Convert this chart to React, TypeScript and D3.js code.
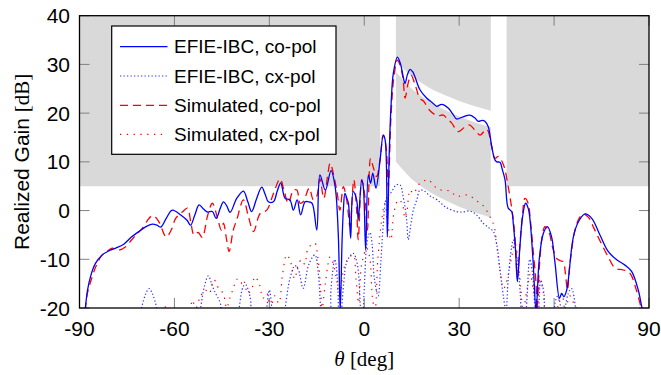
import React from "react";
import * as d3 from "d3";

// ---- Data (theta in deg, realized gain in dB) ----
const xTicks = [-90, -60, -30, 0, 30, 60, 90];
const yTicks = [-20, -10, 0, 10, 20, 30, 40];

const legendLabels = [
  "EFIE-IBC, co-pol",
  "EFIE-IBC, cx-pol",
  "Simulated, co-pol",
  "Simulated, cx-pol",
];

// Mask (gray) regions
const maskFlatLeft = [-90, 5];
const maskFlatRight = [45, 90];
const maskFlatLevel = 5;
const maskTheta = [10, 15, 20, 25, 30, 35, 40];
const maskUpper = [30.7, 27.6, 25.4, 23.8, 22.5, 21.4, 20.5];
const maskMid = [28.5, 25.0, 22.6, 20.8, 19.3, 18.1, 17.1];
const maskLower = [10, 6.5, 4.1, 2.3, 0.8, -0.4, -1.4];

const efieCo: [number, number][] = [
  [-88.2, -20.5], [-87.5, -16.5], [-86.5, -13.5], [-85, -10.9], [-83, -9.2], [-80.5, -8.2],
  [-78.5, -7.7], [-76, -6.9], [-73.5, -5.4], [-71, -4.2], [-69, -3.3], [-67, -2.8],
  [-65.5, -3.0], [-64.3, -3.4], [-62.5, -1.5], [-60.7, 0.1], [-58, -0.9], [-56, -2.0],
  [-54.9, -3.0], [-53.5, -0.8], [-52.2, 1.15], [-50.8, 0.3], [-49.5, -0.3], [-48, -0.2],
  [-46.8, -1.6], [-45.5, 0.5], [-44.5, 1.8], [-43.5, 1.0], [-42.4, -0.35], [-40.3, 2.5],
  [-38.2, 4.0], [-36.8, 1.8], [-35.6, -0.2], [-34, 2.5], [-32.4, 4.8], [-31.3, 3.3],
  [-30.3, 1.8], [-28.7, 1.8], [-27.5, 4.0], [-26.4, 5.7], [-25, 2.5], [-23.5, 2.2],
  [-22.4, 0.1], [-21.2, 2.2], [-20.1, -0.9], [-18.7, 1.8], [-17.7, 1.8], [-16.5, 1.5],
  [-15.0, -4.0], [-14.0, 7.3], [-12.3, 4.2], [-10.5, 8.2], [-9.2, 4.9], [-8.2, -5],
  [-7.6, -20.5], [-7.0, -6], [-6.6, 0.1], [-6.1, 3.5], [-5.5, 2.5], [-5.0, 1.5],
  [-4.3, -5.7], [-3.5, 3.9], [-2.4, 2.2], [-1.9, -1.9], [-0.8, 6.3], [-0.3, 4.9],
  [0.45, -8.1], [1.3, 7.3], [2.0, 5.6], [2.7, 7.7], [3.7, 4.6], [5.0, 10.4],
  [6.0, 15.5], [6.6, 14.5], [7.3, -5.4], [7.9, 11.8], [8.5, 22], [9.2, 28.2],
  [10.5, 31.5], [11.5, 30.0], [12.3, 27.5], [12.9, 26.1], [13.6, 27.8], [14.5, 29.0],
  [15.3, 28.5], [16.0, 27.5], [17.6, 24.8], [19.7, 23.1], [21.8, 22.0], [22.9, 21.4],
  [24.5, 21.8], [26.6, 21.0], [28.0, 19.8], [29.2, 18.8], [31, 19.2], [33.4, 19.6],
  [35, 19.0], [36.0, 18.3], [37.3, 18.5], [38.2, 18.3], [39.2, 17.2], [40.3, 13.1],
  [41.3, 10.4], [41.9, 10.0], [42.9, 9.9], [43.6, 8.5], [44.5, 6.3], [45.5, 0.5],
  [46.6, -0.2], [47.1, -2.6], [47.8, -8], [48.4, -14.6], [49.2, -7.4], [50.0, -1.5],
  [51.0, 1.5], [51.8, 0.5], [52.4, -1.9], [53.4, -10.8], [54.3, -20.5], [55.3, -10.1],
  [56.6, -4.7], [57.9, -3.3], [59.2, -5.4], [60.3, -10.8], [61.7, -18.0], [62.4, -17],
  [63.1, -17.7], [64, -16.3], [64.5, -14.2], [66.1, -5.4], [67.7, -2.3], [69.8, -0.7],
  [71.9, -1.6], [74.5, -5.0], [77.1, -8.4], [79.8, -10.1], [82.4, -11.2], [84.5, -12.5],
  [86.6, -16.3], [87.7, -19.7], [88.2, -21],
];

const simCo: [number, number][] = [
  [-88.2, -20.5], [-87.5, -17], [-86, -13.6], [-84.5, -11], [-82.8, -9.1], [-80.5, -8.0],
  [-79.6, -7.7], [-77.5, -8.1], [-75.5, -7.5], [-73.5, -6.0], [-71.7, -4.7], [-70.1, -3.6],
  [-68.5, -2.0], [-67.5, -1.25], [-66.5, -1.1], [-64.9, -2.3], [-62.6, -5.4], [-61, -4.0],
  [-59.6, -1.6], [-57.5, -0.3], [-55.9, 0.5], [-54.8, -2.5], [-53.8, -5.0], [-52.5, -4.5],
  [-51.2, -5.5], [-49.5, -1.0], [-48.0, 1.5], [-46.4, -1.5], [-45.2, -4.0], [-44.5, -2.6],
  [-43.5, -6], [-42.7, -8.4], [-41.4, -4], [-40.3, -1.9], [-38.2, 2.2], [-36.6, -1.25],
  [-35.0, -4.3], [-32.9, -0.6], [-30.8, 0.1], [-28.7, 3.5], [-26.6, 6.5], [-25.3, 4],
  [-24.0, 1.5], [-22.4, 4.2], [-21.3, 4.2], [-20.3, 1.5], [-19.3, 1.8], [-17.4, 4.6],
  [-16.1, 2.2], [-15.0, 3], [-14, 6.5], [-12.8, 2.5], [-11.5, 7.5], [-10.8, 9.7],
  [-8.7, 4.2], [-7.7, 0.1], [-6.6, 4.9], [-5.5, 2], [-4.5, -3.3], [-3.3, 6.3],
  [-2.4, 0.1], [-1.9, -6], [-0.8, 6.3], [0.2, 2.9], [1.0, -4.0], [2.0, 10.7],
  [2.8, 9], [3.9, 7.0], [5.0, 10.4], [6.0, 15.5], [6.9, 13.1], [7.6, 4.9],
  [8.4, 18.6], [9.3, 27], [10.5, 30.9], [11.5, 29.5], [12.3, 26.8], [12.9, 23.1],
  [14.0, 26.5], [14.8, 27.8], [16, 26], [17.6, 23], [18.7, 22.5], [20.8, 20.5],
  [23, 19.5], [25, 19.6], [26, 19], [27.6, 18.0], [29.7, 16.2], [31.5, 17],
  [33.2, 17.6], [35, 16.5], [36.6, 15.5], [38.7, 16.7], [40.3, 13.1], [41.3, 10.7],
  [42.4, 11.1], [44, 9.4], [45.5, 4.9], [47.1, -1.9], [47.8, -7], [48.4, -13.6],
  [49.2, -7], [50, -1], [50.8, 2.5], [51.8, 1.5], [52.5, -2], [53.5, -9],
  [54.3, -15], [54.6, -20.5], [55.3, -12], [56.2, -5.5], [57.1, -3.3], [58.2, -4],
  [59.5, -7.5], [60.8, -9.8], [62.0, -10.3], [62.9, -10.5], [63.6, -13], [64.2, -16.3],
  [65, -11], [66.6, -4], [68, -1.5], [69.3, -0.7], [71, -1.5], [72.5, -3.5],
  [74.5, -6.2], [77.1, -9.5], [79.3, -11.8], [81.9, -12.2], [84, -12.9], [86, -16.3],
  [87.7, -20.5],
];

const efieCx: [number, number][] = [
  [-72, -25], [-70.4, -20], [-69, -17], [-68, -16], [-67, -17], [-65.6, -20], [-64.5, -25],
  [-52.5, -25], [-51.7, -20], [-50.5, -15.5], [-49.3, -13.4], [-48, -15.5], [-47, -17],
  [-45.5, -19], [-44.5, -25], [-40, -25], [-39.5, -20], [-38.2, -15.5], [-37.5, -15.2],
  [-36, -18], [-35.2, -25], [-31.5, -25], [-30.8, -20], [-30, -16.3], [-29.2, -20],
  [-28.5, -25], [-26.2, -25], [-25, -20], [-23.5, -14], [-21.9, -11.3], [-20.8, -12.2],
  [-19.3, -16], [-17.5, -11], [-15.6, -9.1], [-14.5, -13], [-13.8, -20], [-13, -25],
  [-11.2, -25], [-10.5, -16], [-9.3, -10], [-8.5, -14], [-7.8, -25], [-6.5, -15],
  [-5.5, -10.5], [-3.5, -8.8], [-2.2, -11], [-1.2, -20], [-0.6, -25], [0.0, -16],
  [1.0, -6], [1.8, -4.5], [2.5, -7], [3.2, -14], [4.4, -17.5], [5.2, -11],
  [6.0, -3], [7.0, 2.5], [8.7, 3.9], [10.0, 5.2], [11.3, 5.3], [12.3, 2.9],
  [13.4, -1.9], [13.9, -6.0], [14.7, -3], [15.5, 0.1], [16.6, 2.2], [17.6, 4.2],
  [19, 4.0], [20.8, 3.0], [23, 2.2], [26, 0.6], [29.2, -0.2], [31, -0.3],
  [33.4, -0.1], [35.5, -0.9], [37.6, -2.6], [39.5, -3.6], [40.8, -4.3], [41.9, -7],
  [42.9, -12.2], [44, -17.7], [44.8, -20.5], [45.5, -14], [46.6, -7.4], [47.1, -6.0],
  [47.8, -8], [48.5, -11], [49.3, -17], [50.0, -25], [51.2, -20], [52.3, -10],
  [53.2, -13], [54, -20], [55, -25], [55.3, -18], [55.8, -14.3], [56.8, -17],
  [57.5, -25], [59.5, -25], [60.3, -19], [61.2, -17.5], [62.0, -19.5], [62.7, -25],
  [63.5, -20], [64.5, -17], [65.5, -16], [66.8, -20], [67.5, -25],
];

const simCx: [number, number][] = [
  [-64, -25], [-63, -19.6], [-62, -25], [-59, -25], [-58.8, -20], [-58, -25],
  [-55.5, -25], [-54.4, -18.4], [-53.2, -20], [-52, -18], [-50.3, -16.3], [-49, -17],
  [-47.5, -14.2], [-46, -16], [-44.6, -17], [-43.5, -20], [-42.5, -18], [-41.4, -16],
  [-40.3, -14.1], [-39, -15], [-38.2, -14.2], [-36.8, -17], [-35.5, -16], [-34.6, -13.6],
  [-33.2, -15], [-32, -18], [-30.8, -17], [-29.6, -20], [-28.3, -17.5], [-27, -19],
  [-25.8, -13], [-24.5, -9.1], [-23.3, -10.5], [-22, -14], [-20.8, -11], [-19.8, -10.1],
  [-18.8, -11], [-17.7, -7.7], [-15.6, -6.7], [-14.8, -9], [-14, -14], [-13.3, -20],
  [-12.3, -15], [-10.8, -9.5], [-10, -10.5], [-8.8, -14], [-7.8, -18], [-6.5, -12],
  [-5.2, -10], [-3.5, -9.1], [-2.6, -14], [-1.8, -19], [-0.8, -11], [0.8, -7.7],
  [1.8, -10], [2.6, -18], [3.4, -20.5], [4.3, -10], [5.5, -2], [6.5, 1.5],
  [7.3, -2], [8.4, -6], [9.5, 0], [10.8, 2.2], [12.0, 1.5], [12.8, -1.5],
  [13.5, 0], [14.5, 4.2], [15.5, 3.5], [17.6, 5.6], [20.3, 6.3], [21.5, 5.5],
  [22.9, 4.6], [24.5, 4.2], [27.1, 4.0], [29.2, 2.9], [30.5, 3.0], [32.9, 3.2],
  [35.5, 2.0], [37.6, 1.0], [39.7, -1.25], [41.1, -3.3], [41.9, -7.4], [42.9, -12.2],
  [44.0, -16], [44.8, -15], [46.6, -9.5], [47.6, -6.7], [48.6, -10], [49.5, -16],
  [50.2, -20.5], [51.5, -16], [52.5, -13], [53.5, -17], [54.5, -20.5], [55.6, -14.3],
  [56.6, -17], [57.2, -20.5], [60, -25], [61.5, -18.5], [62.5, -17], [63.5, -20.5],
  [65, -17.5], [66.2, -19], [67.5, -20.5], [74, -25], [75, -20], [76, -25],
];

// ---- Layout ----
const W = 661;
const H = 375;
const PL = 79.5, PR = 649, PT = 15.7, PB = 308;

export default function App() {
  const x = d3.scaleLinear().domain([-90, 90]).range([PL, PR]);
  const y = d3.scaleLinear().domain([-20, 40]).range([PB, PT]);

  const line = d3
    .line<[number, number]>()
    .x((d) => x(d[0]))
    .y((d) => y(d[1]))
    .curve(d3.curveCatmullRom.alpha(0.5));

  const maskTop = d3
    .area<number>()
    .x((_, i) => x(maskTheta[i]))
    .y0(() => y(40))
    .y1((_, i) => y(maskUpper[i]))
    .curve(d3.curveMonotoneX);
  const maskBand = d3
    .area<number>()
    .x((_, i) => x(maskTheta[i]))
    .y0((_, i) => y(maskMid[i]))
    .y1((_, i) => y(maskLower[i]))
    .curve(d3.curveMonotoneX);

  const gray = "#d9d9d9";
  const font = "'Liberation Sans', Arial, Helvetica, sans-serif";
  const serif = "'Liberation Serif', 'DejaVu Serif', serif";
  const tickLen = 10;

  const series = [
    { data: efieCo, color: "#0000ff", dash: "none", width: 1.3, lop: 1 },
    { data: efieCx, color: "#3333ff", dash: "1.3 2.2", width: 1.2, lop: 1 },
    { data: simCo, color: "#ff0000", dash: "8 5", width: 1.3, lop: 1 },
    { data: simCx, color: "#ff0000", dash: "1.3 5.5", width: 1.2, lop: 1 },
  ];
  const drawOrder = [3, 1, 2, 0];

  const lgX = 111.7, lgY = 26, lgW = 224.3, lgH = 128.3;
  const lgRows = [46.7, 76, 105.3, 134.3];

  return (
    <svg
      width={W}
      height={H}
      style={{ position: "absolute", left: 0, top: 0, background: "#fff" }}
    >
      <defs>
        <clipPath id="plotclip">
          <rect x={PL} y={PT} width={PR - PL} height={PB - PT} />
        </clipPath>
      </defs>

      {/* mask regions */}
      <rect
        x={x(maskFlatLeft[0])}
        y={y(40)}
        width={x(maskFlatLeft[1]) - x(maskFlatLeft[0])}
        height={y(maskFlatLevel) - y(40)}
        fill={gray}
      />
      <rect
        x={x(maskFlatRight[0])}
        y={y(40)}
        width={x(maskFlatRight[1]) - x(maskFlatRight[0])}
        height={y(maskFlatLevel) - y(40)}
        fill={gray}
      />
      <path d={maskTop(maskTheta) || ""} fill={gray} />
      <path d={maskBand(maskTheta) || ""} fill={gray} />

      {/* ticks */}
      {xTicks.map((t) => (
        <g key={"xt" + t} stroke="#808080" strokeWidth={1}>
          <line x1={x(t)} x2={x(t)} y1={PB} y2={PB - tickLen} />
          <line x1={x(t)} x2={x(t)} y1={PT} y2={PT + tickLen} />
        </g>
      ))}
      {yTicks.map((t) => (
        <g key={"yt" + t} stroke="#808080" strokeWidth={1}>
          <line x1={PL} x2={PL + tickLen} y1={y(t)} y2={y(t)} />
          <line x1={PR} x2={PR - tickLen} y1={y(t)} y2={y(t)} />
        </g>
      ))}

      {/* curves */}
      <g clipPath="url(#plotclip)">
        {drawOrder.map((i) => {
          const s = series[i];
          return (
            <path
              key={"s" + i}
              d={line(s.data) || ""}
              fill="none"
              stroke={s.color}
              strokeWidth={s.width}
              strokeDasharray={s.dash}
              strokeLinejoin="round"
            />
          );
        })}
      </g>

      {/* frame */}
      <rect
        x={PL}
        y={PT}
        width={PR - PL}
        height={PB - PT}
        fill="none"
        stroke="#000"
        strokeWidth={1.3}
      />

      {/* tick labels */}
      {xTicks.map((t) => (
        <text
          key={"xl" + t}
          x={x(t)}
          y={336}
          textAnchor="middle"
          fontFamily={font}
          fontSize={21}
          fill="#000"
        >
          {t}
        </text>
      ))}
      {yTicks.map((t) => (
        <text
          key={"yl" + t}
          x={70}
          y={y(t)}
          dy="0.36em"
          textAnchor="end"
          fontFamily={font}
          fontSize={21}
          fill="#000"
        >
          {t}
        </text>
      ))}

      {/* axis labels */}
      <text
        transform={`translate(29, ${(PT + PB) / 2}) rotate(-90)`}
        textAnchor="middle"
        fontSize={21}
        fill="#000"
      >
        <tspan fontFamily={font}>Realized Gain </tspan>
        <tspan fontFamily={serif}>[dB]</tspan>
      </text>
      <text
        x={(PL + PR) / 2}
        y={366}
        textAnchor="middle"
        fontFamily={serif}
        fontSize={21}
        fill="#000"
      >
        <tspan fontStyle="italic">θ</tspan>
        <tspan> [deg]</tspan>
      </text>

      {/* legend */}
      <rect x={lgX} y={lgY} width={lgW} height={lgH} fill="#fff" stroke="#000" strokeWidth={1.2} />
      {legendLabels.map((lab, i) => {
        const s = series[i];
        return (
          <g key={"lg" + i}>
            <line
              x1={120}
              x2={167.5}
              y1={lgRows[i]}
              y2={lgRows[i]}
              stroke={s.color}
              strokeWidth={s.width}
              strokeDasharray={s.dash}
            />
            <text
              x={174}
              y={lgRows[i]}
              dy="0.35em"
              fontFamily={font}
              fontSize={19}
              fill="#000"
            >
              {lab}
            </text>
          </g>
        );
      })}
    </svg>
  );
}
